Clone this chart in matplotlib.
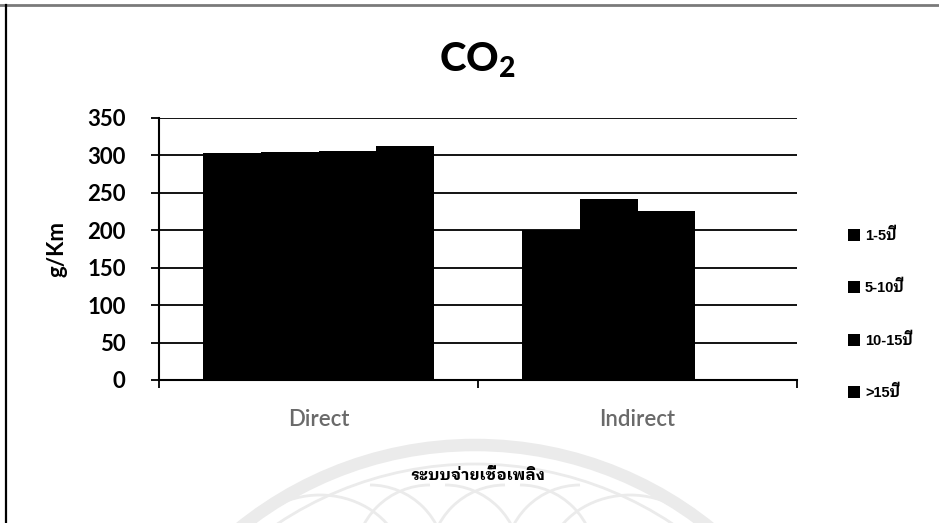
import numpy as np
import matplotlib
matplotlib.use("Agg")
import matplotlib.pyplot as plt
from matplotlib.lines import Line2D
from matplotlib.patches import Arc

plt.rcParams["font.family"] = ["Lato", "DejaVu Sans"]
plt.rcParams["mathtext.fontset"] = "custom"
plt.rcParams["mathtext.bf"] = "Lato:black"
plt.rcParams["mathtext.rm"] = "Lato:black"

# CO2 emission by fuel system and vehicle age
systems = ["Direct", "Indirect"]
age_groups = ["1-5ปี", "5-10ปี", "10-15ปี", ">15ปี"]
co2_1_5 = [303, 200]
co2_5_10 = [305, 242]
co2_10_15 = [306, 226]
co2_over_15 = [312, np.nan]
series = [co2_1_5, co2_5_10, co2_10_15, co2_over_15]

THAI = ["IBM Plex Sans Thai Looped", "DejaVu Sans"]

fig = plt.figure(figsize=(9.39, 5.23), dpi=100)

# faint seal in the background + page frame
bg = fig.add_axes([0, 0, 1, 1], zorder=-5)
bg.set_xlim(0, 939)
bg.set_ylim(523, 0)
bg.axis("off")
wm = "#ebebeb"
bg.add_patch(Arc((475, 820), 750, 750, theta1=180, theta2=360, color=wm, lw=9))
bg.add_patch(Arc((475, 820), 712, 712, theta1=180, theta2=360, color=wm, lw=2))
for cx in [400, 475, 550]:
    bg.add_patch(Arc((cx - 30, 560), 150, 150, theta1=270, theta2=360, color=wm, lw=2))
    bg.add_patch(Arc((cx + 30, 560), 150, 150, theta1=180, theta2=270, color=wm, lw=2))
for cx in [320, 630]:
    bg.add_patch(Arc((cx, 570), 170, 150, theta1=200, theta2=340, color=wm, lw=2))

fig.add_artist(Line2D([0, 1], [1 - 5 / 523, 1 - 5 / 523], color="#7a7a7a", lw=2))
fig.add_artist(Line2D([6 / 939, 6 / 939], [0, 1 - 5 / 523], color="black", lw=1.6))

ax = fig.add_axes([159 / 939, 143 / 523, 638 / 939, 262 / 523])
x = np.arange(len(systems))
w = 0.727 / 4
handles = []
for i, (vals, lab) in enumerate(zip(series, age_groups)):
    b = ax.bar(x + (i - 1.5) * w, vals, width=w, color="black", label=lab, zorder=3)
    handles.append(b)

ax.set_xlim(-0.5, 1.5)
ax.set_ylim(0, 350)
ax.set_yticks(np.arange(0, 351, 50))
ax.yaxis.grid(True, color="black", lw=1.3, zorder=0)
ax.set_axisbelow(True)
for s in ["top", "right"]:
    ax.spines[s].set_visible(False)
ax.spines["left"].set_linewidth(1.5)
ax.spines["bottom"].set_linewidth(1.5)
ax.tick_params(axis="y", length=6, width=1.3, pad=18, labelsize=16)
for t in ax.get_yticklabels():
    t.set_fontweight("bold")

ax.set_xticks([-0.5, 0.5, 1.5])
ax.set_xticklabels([])
ax.set_xticks(x, minor=True)
ax.set_xticklabels(systems, minor=True, color="#6a6a6a", fontsize=16, fontweight="semibold")
ax.tick_params(axis="x", which="major", length=6, width=1.3)
ax.tick_params(axis="x", which="minor", length=0, pad=21)

ax.set_ylabel("g/Km", fontsize=16, fontweight="bold", labelpad=14)
ax.set_xlabel("ระบบจ่ายเชื้อเพลิง", family=THAI, fontsize=11.5, fontweight="bold", labelpad=27)
fig.text(477 / 939, 1 - 60 / 523, r"$\mathbf{CO_2}$", ha="center", va="center", fontsize=29)

fig.legend(handles=handles, labels=age_groups, loc="center left",
           bbox_to_anchor=(835 / 939, 1 - 314 / 523), frameon=False,
           prop={"family": ["Liberation Sans"] + THAI, "size": 10.5, "weight": "bold"},
           handlelength=0.8, handleheight=0.9, handletextpad=0.35, labelspacing=2.55)

fig.savefig("out.png", dpi=100)
